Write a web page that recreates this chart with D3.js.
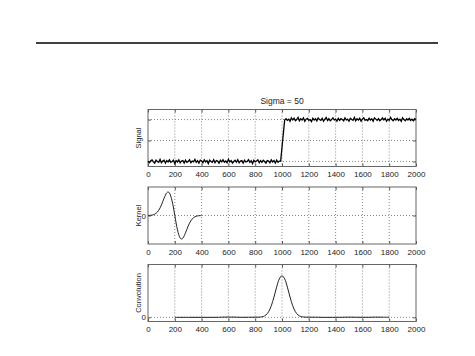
<!DOCTYPE html>
<html>
<head>
<meta charset="utf-8">
<script src="https://cdn.jsdelivr.net/npm/d3@7"></script>
<style>
  body { margin: 0; background: #fff; }
  svg { display: block; font-family: "Liberation Sans", Arial, sans-serif; }
</style>
</head>
<body>
<div id="chart"></div>
<script>
// x ticks shared by all three panels
var xTicks = [0, 200, 400, 600, 800, 1000, 1200, 1400, 1600, 1800, 2000];

// signal: noisy step, sampled every 10
var signalLow = [
	0.01,-0.03,0.02,0.04,-0.01,-0.04,0.03,0.00,-0.02,0.05,
	-0.03,0.01,0.03,-0.04,0.02,-0.01,0.04,-0.02,0.00,0.03,
	-0.05,0.02,-0.01,0.04,-0.03,0.01,0.02,-0.04,0.03,-0.02,
	0.00,0.04,-0.03,0.01,-0.01,0.05,-0.02,0.02,-0.04,0.03,
	0.01,-0.03,0.04,-0.01,0.02,-0.05,0.03,0.00,-0.02,0.04,
	-0.03,0.02,0.01,-0.04,0.03,-0.01,0.04,-0.02,0.01,-0.03,
	0.05,-0.01,0.02,-0.04,0.00,0.03,-0.02,0.04,-0.03,0.01,
	0.02,-0.04,0.03,-0.01,0.00,0.04,-0.02,0.02,-0.05,0.03,
	-0.01,0.01,0.04,-0.03,0.02,-0.02,0.03,0.00,-0.04,0.02,
	0.01,-0.03,0.04,-0.01,0.02,-0.04,0.03,-0.02,0.01
];
var signalRamp = [0.01, 0.34, 0.67, 0.99];
var signalHigh = [
	1.02,0.98,1.01,0.96,1.04,0.99,1.03,0.97,1.00,1.05,
	0.97,1.02,0.99,1.04,0.96,1.01,1.03,0.98,1.00,0.95,
	1.03,0.99,1.02,0.97,1.04,1.00,0.98,1.03,0.96,1.01,
	1.05,0.98,1.02,0.97,1.00,1.04,0.99,1.01,0.96,1.03,
	0.98,1.02,1.00,0.97,1.04,0.99,1.01,0.96,1.03,1.00,
	0.98,1.05,0.97,1.02,0.99,1.03,0.96,1.01,1.04,0.98,
	1.00,0.97,1.03,0.99,1.02,0.96,1.04,1.01,0.98,1.02,
	0.97,1.00,1.04,0.99,1.03,0.96,1.01,0.98,1.05,1.00,
	0.97,1.02,0.99,1.03,0.98,1.01,0.96,1.04,1.00,0.97,
	1.02,0.99,1.03,0.98,1.01,0.97,1.02,1.00
];
var signalValues = signalLow.concat(signalRamp, signalHigh);

// kernel: derivative of gaussian, read every 20 (scaled to peak 1)
var kernelX = [0,20,40,60,80,100,120,140,150,160,180,200,220,240,250,260,280,300,320,340,360,380,400];
var kernelY = [0.002,0.009,0.032,0.092,0.222,0.446,0.733,0.963,1.0,0.958,0.609,0,
	-0.609,-0.958,-1.0,-0.963,-0.733,-0.446,-0.222,-0.092,-0.032,-0.009,-0.002];

// convolution result, valid part 200..1800
var convX = [200,300,400,500,550,600,650,700,750,800,840,860,880,900,920,940,960,980,1000,
	1020,1040,1060,1080,1100,1120,1140,1160,1200,1250,1300,1400,1450,1500,1550,1600,1650,1700,1750,1800];
var convY = [0,0,0,0,0.004,0.006,0.005,0,0.002,0.003,0.008,0.020,0.056,0.135,0.278,0.487,0.726,0.923,1.0,
	0.923,0.726,0.487,0.278,0.135,0.056,0.020,0.008,0.003,0.004,0,0,0.002,0.005,0.003,0,0.002,0.005,0.004,0];

var width = 475, height = 356;
var left = 148, right = 416, panelH = 57;

var svg = d3.select("#chart")
  .append("svg")
    .attr("width", width)
    .attr("height", height);

// rule at the top of the page
svg.append("line")
    .attr("x1", 36).attr("x2", 438)
    .attr("y1", 43).attr("y2", 43)
    .style("stroke", "black")
    .style("stroke-width", "1.3px");

var x = d3.scaleLinear().domain([0, 2000]).range([left, right]);

function makePanel(top, yDomain, yTicks, yTickLabels, label) {
	var y = d3.scaleLinear().domain(yDomain).range([top + panelH, top]);
	var g = svg.append("g");

	// grid
	g.selectAll(".vgrid")
	    .data(xTicks.slice(1, -1))
	  .enter().append("line")
	    .attr("x1", function(d) { return x(d); })
	    .attr("x2", function(d) { return x(d); })
	    .attr("y1", top).attr("y2", top + panelH)
	    .style("stroke", "#555")
	    .style("stroke-width", "0.7px")
	    .style("stroke-dasharray", "1,2");
	g.selectAll(".hgrid")
	    .data(yTicks)
	  .enter().append("line")
	    .attr("x1", left).attr("x2", right)
	    .attr("y1", function(d) { return y(d); })
	    .attr("y2", function(d) { return y(d); })
	    .style("stroke", "#555")
	    .style("stroke-width", "0.7px")
	    .style("stroke-dasharray", "1,2");

	// axes with inward ticks, top and bottom
	var xAxis = d3.axisBottom(x).tickValues(xTicks).tickSizeInner(-3).tickSizeOuter(0)
	    .tickFormat(d3.format("d"));
	var ax = g.append("g")
	    .attr("transform", "translate(0," + (top + panelH) + ")")
	    .call(xAxis);
	ax.select(".domain").remove();
	ax.selectAll("line").style("stroke", "#555");
	ax.selectAll("text").style("font-size", "8px").style("fill", "#222");
	ax.selectAll("text").attr("y", 5);

	var axTop = g.append("g")
	    .attr("transform", "translate(0," + top + ")")
	    .call(d3.axisTop(x).tickValues(xTicks).tickSizeInner(-3).tickSizeOuter(0).tickFormat(""));
	axTop.select(".domain").remove();
	axTop.selectAll("line").style("stroke", "#555");

	var ay = g.append("g")
	    .attr("transform", "translate(" + left + ",0)")
	    .call(d3.axisLeft(y).tickValues(yTicks).tickSizeInner(-3).tickSizeOuter(0).tickPadding(2)
	      .tickFormat(function(d, i) { return yTickLabels[i]; }));
	ay.select(".domain").remove();
	ay.selectAll("line").style("stroke", "#555");
	ay.selectAll("text").style("font-size", "8px").style("fill", "#222");

	var ayR = g.append("g")
	    .attr("transform", "translate(" + right + ",0)")
	    .call(d3.axisRight(y).tickValues(yTicks).tickSizeInner(-3).tickSizeOuter(0).tickFormat(""));
	ayR.select(".domain").remove();
	ayR.selectAll("line").style("stroke", "#555");

	// box
	g.append("rect")
	    .attr("x", left).attr("y", top)
	    .attr("width", right - left).attr("height", panelH)
	    .style("fill", "none")
	    .style("stroke", "#666")
	    .style("stroke-width", "1px");

	//add y label
	g.append("text")
	    .attr("transform", "translate(" + 141 + "," + (top + panelH / 2) + ") rotate(-90)")
	    .attr("text-anchor", "middle")
	    .style("font-size", "7.5px")
	    .style("fill", "#222")
	    .text(label);

	return y;
}

// signal panel
var top1 = 109.5;
var y1 = makePanel(top1, [-0.12, 1.24], [0, 0.5, 1], ["", "", ""], "Signal");
svg.append("path")
    .datum(signalValues)
    .attr("d", d3.line()
      .x(function(d, i) { return x(i * 10); })
      .y(function(d) { return y1(d); }))
    .style("fill", "none")
    .style("stroke", "black")
    .style("stroke-width", "1.3px");

svg.append("text")
    .attr("x", (left + right) / 2)
    .attr("y", 104)
    .attr("text-anchor", "middle")
    .style("font-size", "8.5px")
    .style("fill", "#222")
    .text("Sigma = 50");

// kernel panel
var top2 = 187;
var y2 = makePanel(top2, [-1.21, 1.21], [0], ["0"], "Kernel");
svg.append("path")
    .datum(d3.zip(kernelX, kernelY))
    .attr("d", d3.line()
      .x(function(d) { return x(d[0]); })
      .y(function(d) { return y2(d[1]); })
      .curve(d3.curveCatmullRom))
    .style("fill", "none")
    .style("stroke", "#222")
    .style("stroke-width", "1px");

// convolution panel
var top3 = 264.5;
var y3 = makePanel(top3, [-0.1, 1.27], [0], ["0"], "Convolution");
svg.append("path")
    .datum(d3.zip(convX, convY))
    .attr("d", d3.line()
      .x(function(d) { return x(d[0]); })
      .y(function(d) { return y3(d[1]); })
      .curve(d3.curveCatmullRom))
    .style("fill", "none")
    .style("stroke", "#222")
    .style("stroke-width", "1px");
</script>
</body>
</html>
